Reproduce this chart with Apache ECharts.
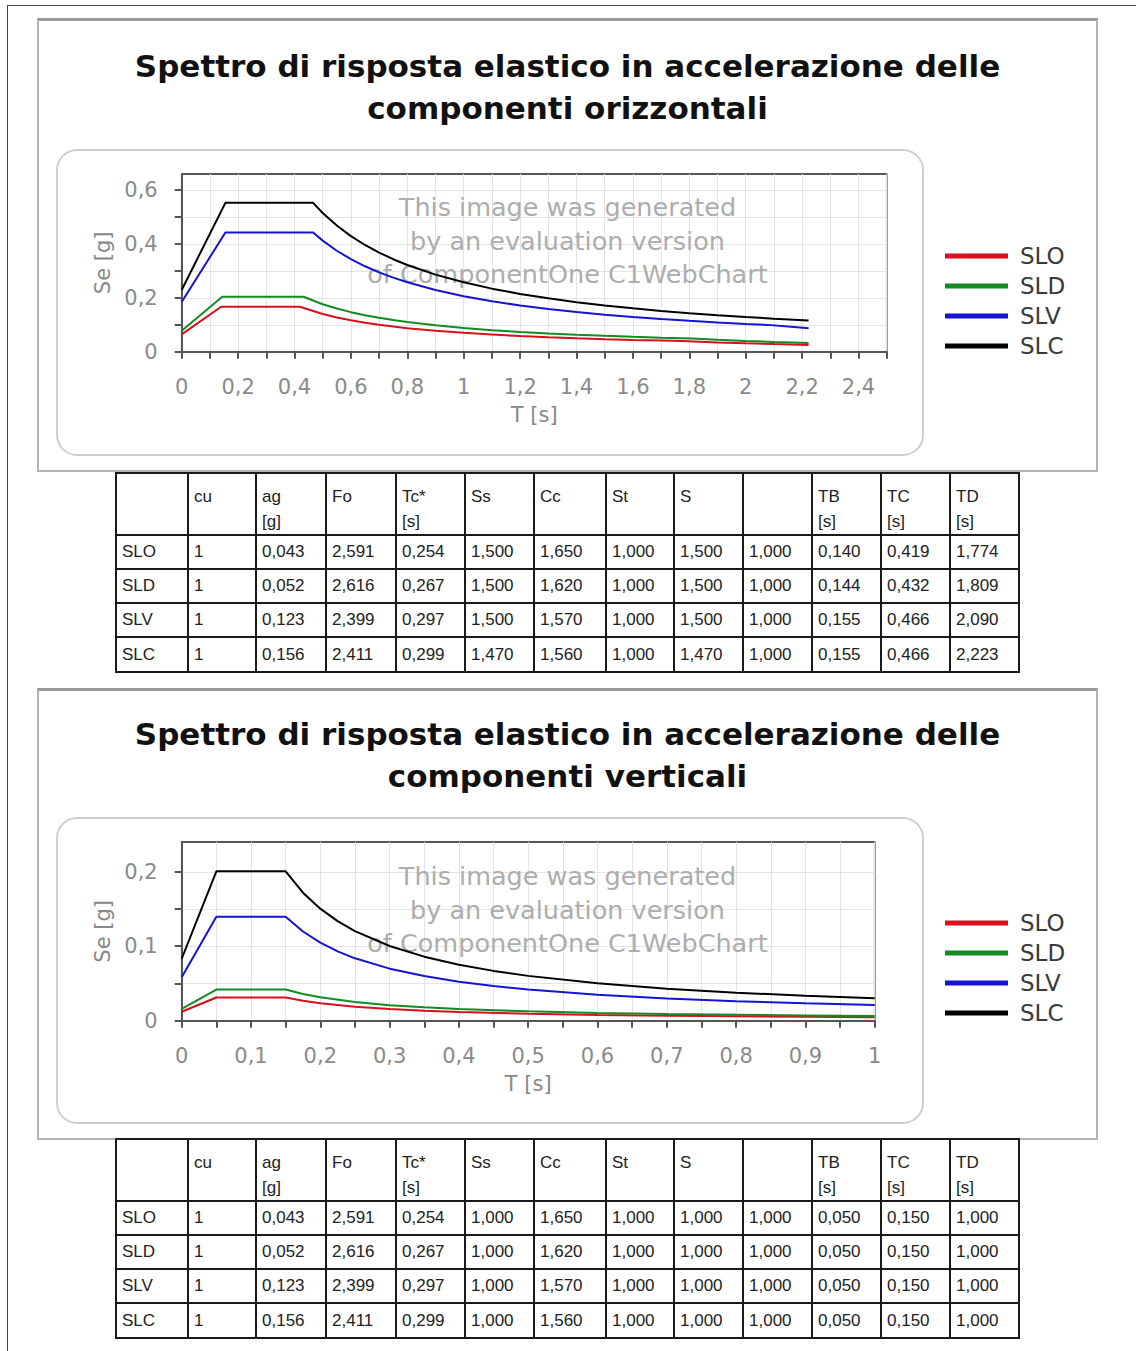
<!DOCTYPE html>
<html><head><meta charset="utf-8">
<script src="https://cdn.jsdelivr.net/npm/echarts@6/dist/echarts.min.js"></script>
<style>
body{margin:0;background:#fff;}
#page{position:relative;width:1136px;height:1351px;overflow:hidden;background:#fff;}
.frame{position:absolute;left:7px;top:5px;width:1129px;height:1346px;border-left:1px solid #444;border-top:1px solid #444;}
.panel{position:absolute;left:37px;width:1061px;box-sizing:border-box;border:2px solid #b4b4b4;border-top:3px solid #9a9a9a;}
.chart{position:absolute;left:37px;width:1061px;}
table.par{position:absolute;left:115px;border-collapse:collapse;table-layout:fixed;font-family:"Liberation Sans",Arial,sans-serif;font-size:17px;color:#222;}
table.par td{border:2px solid #1a1a1a;padding:0 0 0 5px;overflow:hidden;white-space:nowrap;vertical-align:middle;}
table.par tr.h td{vertical-align:top;padding-top:10px;line-height:25px;}
</style>
</head><body>
<div id="page">
  <div class="frame"></div>
  <div class="panel" style="top:18px;height:454px;"></div>
  <div id="c1" class="chart" style="top:18px;height:454px;"></div>
  <table id="t1" class="par" style="top:472px;"></table>
  <div class="panel" style="top:688px;height:452px;"></div>
  <div id="c2" class="chart" style="top:688px;height:452px;"></div>
  <table id="t2" class="par" style="top:1138px;"></table>
</div>
<script>
// ---------- series names & colours ----------
const seriesNames = ['SLO', 'SLD', 'SLV', 'SLC'];
const seriesColors = ['#d8101c', '#138a22', '#1414d2', '#000000'];

// ---------- horizontal components: [T (s), Se (g)] ----------
const hSLO = [[0,0.0645],[0.140,0.1671],[0.419,0.1671],[0.5,0.1400],[0.55,0.1273],[0.6,0.1167],[0.65,0.1077],[0.7,0.1000],[0.75,0.0933],[0.8,0.0875],[0.9,0.0778],[1.0,0.0700],[1.1,0.0636],[1.2,0.0583],[1.3,0.0539],[1.4,0.0500],[1.5,0.0467],[1.6,0.0438],[1.7,0.0412],[1.774,0.0395],[1.9,0.0344],[2.0,0.0311],[2.1,0.0282],[2.223,0.0251]];
const hSLD = [[0,0.0780],[0.144,0.2040],[0.432,0.2040],[0.5,0.1763],[0.55,0.1602],[0.6,0.1469],[0.65,0.1356],[0.7,0.1259],[0.75,0.1175],[0.8,0.1102],[0.9,0.0979],[1.0,0.0881],[1.1,0.0801],[1.2,0.0734],[1.3,0.0678],[1.4,0.0630],[1.5,0.0588],[1.6,0.0551],[1.7,0.0518],[1.809,0.0487],[1.9,0.0442],[2.0,0.0399],[2.1,0.0362],[2.223,0.0323]];
const hSLV = [[0,0.1845],[0.155,0.4426],[0.466,0.4426],[0.5,0.4125],[0.55,0.3750],[0.6,0.3438],[0.65,0.3173],[0.7,0.2946],[0.75,0.2750],[0.8,0.2578],[0.9,0.2292],[1.0,0.2063],[1.1,0.1875],[1.2,0.1719],[1.3,0.1587],[1.4,0.1473],[1.5,0.1375],[1.6,0.1289],[1.7,0.1213],[1.8,0.1146],[1.9,0.1086],[2.0,0.1031],[2.09,0.0987],[2.15,0.0933],[2.223,0.0872]];
const hSLC = [[0,0.2293],[0.155,0.5529],[0.466,0.5529],[0.5,0.5153],[0.55,0.4685],[0.6,0.4294],[0.65,0.3964],[0.7,0.3681],[0.75,0.3435],[0.8,0.3221],[0.9,0.2863],[1.0,0.2577],[1.1,0.2342],[1.2,0.2147],[1.3,0.1982],[1.4,0.1840],[1.5,0.1718],[1.6,0.1610],[1.7,0.1516],[1.8,0.1431],[1.9,0.1356],[2.0,0.1288],[2.1,0.1227],[2.223,0.1159]];

// ---------- vertical components: [T (s), Se (g)] ----------
const vSLO = [[0,0.0120],[0.05,0.0312],[0.15,0.0312],[0.175,0.0267],[0.2,0.0234],[0.25,0.0187],[0.3,0.0156],[0.35,0.0134],[0.4,0.0117],[0.5,0.0094],[0.6,0.0078],[0.7,0.0067],[0.8,0.0059],[0.9,0.0052],[1.0,0.0047]];
const vSLD = [[0,0.0160],[0.05,0.0419],[0.15,0.0419],[0.175,0.0359],[0.2,0.0314],[0.25,0.0251],[0.3,0.0209],[0.35,0.0179],[0.4,0.0157],[0.5,0.0126],[0.6,0.0105],[0.7,0.0090],[0.8,0.0079],[0.9,0.0070],[1.0,0.0063]];
const vSLV = [[0,0.0582],[0.05,0.1397],[0.15,0.1397],[0.175,0.1198],[0.2,0.1048],[0.225,0.0932],[0.25,0.0838],[0.3,0.0699],[0.35,0.0599],[0.4,0.0524],[0.45,0.0466],[0.5,0.0419],[0.6,0.0349],[0.7,0.0299],[0.8,0.0262],[0.9,0.0233],[1.0,0.0210]];
const vSLC = [[0,0.0832],[0.05,0.2006],[0.15,0.2006],[0.175,0.1719],[0.2,0.1505],[0.225,0.1337],[0.25,0.1204],[0.3,0.1003],[0.35,0.0860],[0.4,0.0752],[0.45,0.0669],[0.5,0.0602],[0.6,0.0502],[0.7,0.0430],[0.8,0.0376],[0.9,0.0334],[1.0,0.0301]];

// ---------- axis ticks & labels ----------
const hTicksX = [0,0.1,0.2,0.3,0.4,0.5,0.6,0.7,0.8,0.9,1,1.1,1.2,1.3,1.4,1.5,1.6,1.7,1.8,1.9,2,2.1,2.2,2.3,2.4,2.5];
const hLabelsX = [0,0.2,0.4,0.6,0.8,1,1.2,1.4,1.6,1.8,2,2.2,2.4];
const hTicksY = [0,0.1,0.2,0.3,0.4,0.5,0.6];
const hLabelsY = [0,0.2,0.4,0.6];
const vTicksX = [0,0.05,0.1,0.15,0.2,0.25,0.3,0.35,0.4,0.45,0.5,0.55,0.6,0.65,0.7,0.75,0.8,0.85,0.9,0.95,1];
const vLabelsX = [0,0.1,0.2,0.3,0.4,0.5,0.6,0.7,0.8,0.9,1];
const vTicksY = [0,0.05,0.1,0.15,0.2];
const vLabelsY = [0,0.1,0.2];

// ---------- texts ----------
const title1 = 'Spettro di risposta elastico in accelerazione delle\ncomponenti orizzontali';
const title2 = 'Spettro di risposta elastico in accelerazione delle\ncomponenti verticali';
const watermark = ['This image was generated', 'by an evaluation version', 'of ComponentOne C1WebChart'];
const xName = 'T [s]';
const yName = 'Se [g]';

// ---------- tables ----------
const tableHeader = [['',''],['cu',''],['ag','[g]'],['Fo',''],['Tc*','[s]'],['Ss',''],['Cc',''],['St',''],['S',''],['',''],['TB','[s]'],['TC','[s]'],['TD','[s]']];
const hRowSLO = ['SLO','1','0,043','2,591','0,254','1,500','1,650','1,000','1,500','1,000','0,140','0,419','1,774'];
const hRowSLD = ['SLD','1','0,052','2,616','0,267','1,500','1,620','1,000','1,500','1,000','0,144','0,432','1,809'];
const hRowSLV = ['SLV','1','0,123','2,399','0,297','1,500','1,570','1,000','1,500','1,000','0,155','0,466','2,090'];
const hRowSLC = ['SLC','1','0,156','2,411','0,299','1,470','1,560','1,000','1,470','1,000','0,155','0,466','2,223'];
const vRowSLO = ['SLO','1','0,043','2,591','0,254','1,000','1,650','1,000','1,000','1,000','0,050','0,150','1,000'];
const vRowSLD = ['SLD','1','0,052','2,616','0,267','1,000','1,620','1,000','1,000','1,000','0,050','0,150','1,000'];
const vRowSLV = ['SLV','1','0,123','2,399','0,297','1,000','1,570','1,000','1,000','1,000','0,050','0,150','1,000'];
const vRowSLC = ['SLC','1','0,156','2,411','0,299','1,000','1,560','1,000','1,000','1,000','0,050','0,150','1,000'];

// ================= build =================
const colWidths = [72,68,70,70,69,69,72,68,69,69,69,69,69];
const rowHeights = [62,34,34,34,35];
function buildTable(id, rows) {
  const t = document.getElementById(id);
  let html = '<colgroup>' + colWidths.map(w => '<col style="width:' + w + 'px">').join('') + '</colgroup>';
  html += '<tr class="h" style="height:' + rowHeights[0] + 'px">' +
    tableHeader.map(h => '<td>' + (h[0] || '&nbsp;') + (h[1] ? '<br>' + h[1] : '') + '</td>').join('') + '</tr>';
  rows.forEach((r, i) => {
    html += '<tr style="height:' + rowHeights[i + 1] + 'px">' + r.map(c => '<td>' + c + '</td>').join('') + '</tr>';
  });
  t.innerHTML = html;
}
buildTable('t1', [hRowSLO, hRowSLD, hRowSLV, hRowSLC]);
buildTable('t2', [vRowSLO, vRowSLD, vRowSLV, vRowSLC]);

const FONT = '"DejaVu Sans", Verdana, sans-serif';
const fmt = v => String(+Number(v).toFixed(3)).replace('.', ',');

function makeOption(cfg) {
  const axisCommon = {
    type: 'value',
    axisLine: { show: true, onZero: false, lineStyle: { color: '#555', width: 2 } },
    splitLine: { show: true, lineStyle: { color: '#e4e4e4', width: 1 } },
    nameLocation: 'middle',
    nameTextStyle: { color: '#888', fontSize: 21, fontFamily: FONT }
  };
  return {
    animation: false,
    title: {
      text: cfg.title, left: 'center', top: cfg.titleTop, padding: 0,
      textStyle: { fontFamily: FONT, fontWeight: 'bold', fontSize: 31, lineHeight: 42, color: '#111' }
    },
    legend: {
      orient: 'vertical', left: 908, top: cfg.legendTop, itemGap: 0, padding: 0,
      itemWidth: 63, itemHeight: 5, icon: 'rect',
      data: seriesNames,
      textStyle: { fontFamily: FONT, fontSize: 23, color: '#3a3a3a', lineHeight: 30, padding: [0, 0, 0, 7] }
    },
    grid: {
      left: 144.7, top: cfg.gridTop, width: cfg.gridWidth, height: cfg.gridHeight,
      show: true, borderColor: '#222', borderWidth: 1.5, backgroundColor: 'transparent'
    },
    xAxis: Object.assign({}, axisCommon, {
      min: 0, max: cfg.xMax, interval: cfg.xInterval,
      axisTick: { show: true, length: 7, lineStyle: { color: '#555', width: 2 }, customValues: cfg.xTicks },
      axisLabel: { customValues: cfg.xLabels, formatter: fmt, margin: 25, color: '#8a8a8a', fontSize: 21, fontFamily: FONT },
      name: xName, nameGap: 53
    }),
    yAxis: Object.assign({}, axisCommon, {
      min: 0, max: cfg.yMax, interval: cfg.yInterval,
      axisTick: { show: true, length: 7, lineStyle: { color: '#555', width: 2 }, customValues: cfg.yTicks },
      axisLabel: { customValues: cfg.yLabels, formatter: fmt, margin: 24, color: '#8a8a8a', fontSize: 21, fontFamily: FONT },
      name: yName, nameGap: 62
    }),
    graphic: [
      { type: 'rect', z: -10, shape: { x: 20, y: cfg.boxTop, width: 866, height: 305, r: 20 },
        style: { fill: 'none', stroke: '#cfcfcf', lineWidth: 2 } }
    ].concat(watermark.map((w, i) => ({
      type: 'text', z: 1, left: 'center', top: cfg.wmTop + i * 33.5,
      style: { text: w, fill: '#adadad', font: '25.5px ' + FONT, textAlign: 'center' }
    }))),
    series: cfg.data.map((d, i) => ({
      name: seriesNames[i], type: 'line', data: d, showSymbol: false, symbol: 'none',
      lineStyle: { color: seriesColors[i], width: 2 }, itemStyle: { color: seriesColors[i] }, z: 3
    }))
  };
}

const c1 = echarts.init(document.getElementById('c1'), null, { renderer: 'svg' });
c1.setOption(makeOption({
  title: title1, titleTop: 27, legendTop: 223,
  gridTop: 156, gridWidth: 705, gridHeight: 177.7, boxTop: 132, wmTop: 176,
  xMax: 2.5, xInterval: 0.2, xTicks: hTicksX, xLabels: hLabelsX,
  yMax: 0.66, yInterval: 0.2, yTicks: hTicksY, yLabels: hLabelsY,
  data: [hSLO, hSLD, hSLV, hSLC]
}));
const c2 = echarts.init(document.getElementById('c2'), null, { renderer: 'svg' });
c2.setOption(makeOption({
  title: title2, titleTop: 25, legendTop: 220,
  gridTop: 154, gridWidth: 693, gridHeight: 178.7, boxTop: 130, wmTop: 175,
  xMax: 1, xInterval: 0.1, xTicks: vTicksX, xLabels: vLabelsX,
  yMax: 0.24, yInterval: 0.1, yTicks: vTicksY, yLabels: vLabelsY,
  data: [vSLO, vSLD, vSLV, vSLC]
}));
</script>
</body></html>
